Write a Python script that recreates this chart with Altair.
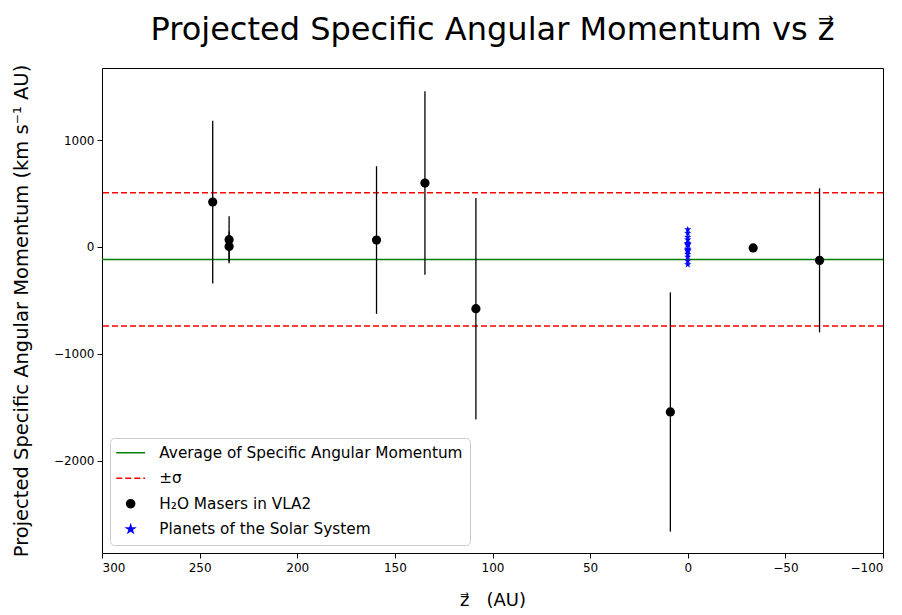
import altair as alt
import pandas as pd

# ---- data ----
maser_z = [243.3, 234.9, 234.9, 159.4, 134.6, 108.5, 8.9, -33.5, -67.5]
maser_j = [420, 68, 5, 65, 598, -577, -1542, -9, -125]
maser_err = [760, 220, 140, 690, 857, 1036, 1118, 15, 673]

planet_j = [18.5, 25.3, 29.8, 36.7, 68.0, 92.0, 130.0, 163.0,
            -18.5, -25.3, -29.8, -36.7, -68.0, -92.0, -130.0, -163.0]
planet_z = [0.0] * len(planet_j)

mean_j = -116
sigma_j = 623

x_ticks = [300, 250, 200, 150, 100, 50, 0, -50, -100]
y_ticks = [-2000, -1000, 0, 1000]

AVG = "Average of Specific Angular Momentum"
SIG = "±σ"
MAS = "H₂O Masers in VLA2"
PLA = "Planets of the Solar System"
series_domain = [AVG, SIG, MAS, PLA]

STAR = ("M0,-1L0.2245,-0.309L0.951,-0.309L0.363,0.118L0.588,0.809L0,0.382"
        "L-0.588,0.809L-0.363,0.118L-0.951,-0.309L-0.2245,-0.309Z")
LINE = "M-3.6,0L3.6,0"

masers = pd.DataFrame({
    "z": maser_z, "j": maser_j,
    "lo": [m - e for m, e in zip(maser_j, maser_err)],
    "hi": [m + e for m, e in zip(maser_j, maser_err)],
    "series": MAS,
})
planets = pd.DataFrame({"z": planet_z, "j": planet_j, "series": PLA})
lines = pd.DataFrame({"j": [mean_j, mean_j + sigma_j, mean_j - sigma_j],
                      "series": [AVG, SIG, SIG]})

xs = alt.Scale(domain=[-100, 300], reverse=True, nice=False, zero=False)
ys = alt.Scale(domain=[-2860, 1673], nice=False, zero=False)

color_scale = alt.Scale(domain=series_domain, range=["#008000", "#ff0000", "#000000", "#0000ff"])
shape_scale = alt.Scale(domain=series_domain, range=[LINE, LINE, "circle", STAR])
dash_scale = alt.Scale(domain=series_domain, range=[[1, 0], [6, 3], [1, 0], [1, 0]])

x_axis = alt.Axis(values=x_ticks, format="d", title="z⃗\u00a0\u00a0\u00a0(AU)",
                  titleFontSize=18, titlePadding=18)
y_axis = alt.Axis(values=y_ticks, format="d",
                  title="Projected Specific Angular Momentum (km s⁻¹ AU)",
                  titleFontSize=19.5, titlePadding=22)

leg = alt.Legend(title=None)

hlines = alt.Chart(lines).mark_rule(strokeWidth=1.5).encode(
    y=alt.Y("j:Q", scale=ys, axis=y_axis),
    color=alt.Color("series:N", scale=color_scale, legend=leg),
    strokeDash=alt.StrokeDash("series:N", scale=dash_scale, legend=leg),
)

errbars = alt.Chart(masers).mark_rule(color="black", strokeWidth=1.3).encode(
    x=alt.X("z:Q", scale=xs, axis=x_axis),
    y=alt.Y("lo:Q", scale=ys),
    y2="hi:Q",
)


def point_layer(df, size):
    return alt.Chart(df).mark_point(filled=True, opacity=1, size=size).encode(
        x=alt.X("z:Q", scale=xs, axis=x_axis),
        y=alt.Y("j:Q", scale=ys, axis=y_axis),
        color=alt.Color("series:N", scale=color_scale, legend=leg),
        shape=alt.Shape("series:N", scale=shape_scale, legend=leg),
    )


maser_pts = point_layer(masers, 85)
planet_pts = point_layer(planets, 60)

chart = alt.layer(hlines, errbars, maser_pts, planet_pts).properties(
    width=781, height=485,
    autosize=alt.AutoSizeParams(type="none"),
    padding={"left": 94, "top": 60, "right": 10, "bottom": 60},
    title=alt.TitleParams("Projected Specific Angular Momentum vs z⃗", fontSize=32,
                          font="DejaVu Sans", fontWeight="normal", anchor="middle",
                          baseline="alphabetic", offset=-8, color="black"),
).configure_view(
    stroke="black", strokeWidth=1
).configure_axis(
    domain=False, grid=False, tickColor="black", tickSize=5, tickWidth=1,
    labelFont="DejaVu Sans", labelFontSize=12, labelColor="black", labelPadding=3,
    titleFont="DejaVu Sans", titleFontWeight="normal", titleColor="black",
).configure_axisX(
    labelPadding=4
).configure_legend(
    orient="bottom-left", offset=8, padding=7, strokeColor="#cccccc",
    fillColor="white", cornerRadius=4, labelFont="DejaVu Sans", labelFontSize=15.3,
    labelColor="black", rowPadding=9.5, symbolStrokeWidth=1.5, labelOffset=21,
    symbolOffset=6, labelLimit=400, symbolSize=64,
)

chart.save("out.html", embed_options={"renderer": "svg", "actions": False})
